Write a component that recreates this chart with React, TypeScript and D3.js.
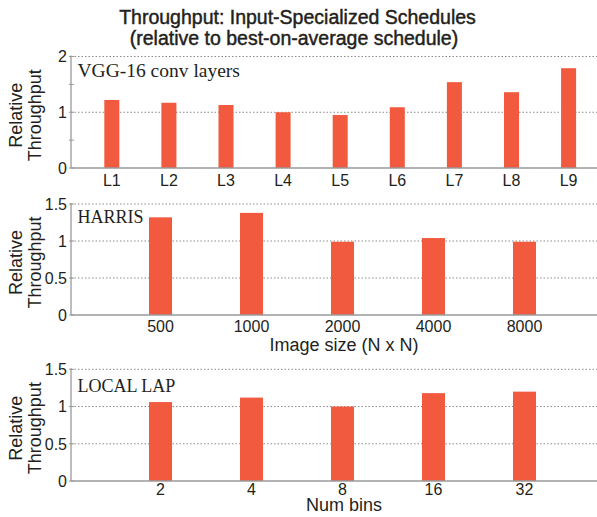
import React from "react";
import * as d3 from "d3";

const vggLayers = ["L1", "L2", "L3", "L4", "L5", "L6", "L7", "L8", "L9"];
const vggValues = [1.22, 1.17, 1.13, 1.0, 0.95, 1.09, 1.54, 1.36, 1.79];
const vggTicks = [0, 1, 2];
const vggMinorTicks = [0.5, 1.5];

const harrisSizes = ["500", "1000", "2000", "4000", "8000"];
const harrisValues = [1.32, 1.38, 0.99, 1.04, 0.99];

const lapBins = ["2", "4", "8", "16", "32"];
const lapValues = [1.06, 1.12, 1.0, 1.18, 1.2];

const ratioTicks = [0, 0.5, 1, 1.5];

const BAR = "#f15a3e";
const TXT = "#231f20";
const SANS = "'Liberation Sans', Arial, Helvetica, sans-serif";
const SERIF = "'Liberation Serif', 'Times New Roman', serif";

type PanelProps = {
  cats: string[];
  vals: number[];
  ymax: number;
  ticks: number[];
  minor?: number[];
  grid: number[];
  y0: number;
  y1: number;
  bandStart: number;
  bandEnd: number;
  padInner: number;
  label: string;
  labelSize: number;
  labelY: number;
  tickLabelY: number;
  xTitle?: string;
  xTitleY?: number;
  fmt: (v: number) => string;
};

const AX_L = 71;
const AX_R = 597;

function Panel(p: PanelProps) {
  const x = d3.scaleBand<string>().domain(p.cats).range([p.bandStart, p.bandEnd]).paddingInner(p.padInner).paddingOuter(0);
  const y = d3.scaleLinear().domain([0, p.ymax]).range([p.y0, p.y1]);
  const midY = (p.y0 + p.y1) / 2 + 3;
  return (
    <g>
      {p.grid.map((g) => (
        <line key={"g" + g} x1={AX_L} x2={AX_R} y1={y(g)} y2={y(g)} stroke="#8a8a8a" strokeWidth={1} strokeDasharray="1.5,2" />
      ))}
      {p.cats.map((c, i) => (
        <rect key={c} x={x(c)} y={y(p.vals[i])} width={x.bandwidth()} height={p.y0 - y(p.vals[i])} fill={BAR} />
      ))}
      <line x1={AX_L} x2={AX_L} y1={p.y0} y2={y(p.ymax) - 1} stroke="#9a9a9a" strokeWidth={1.3} />
      <line x1={AX_L} x2={AX_R} y1={p.y0} y2={p.y0} stroke="#9a9a9a" strokeWidth={1.5} />
      {[...p.ticks, ...(p.minor || [])].map((t) => (
        <line key={"t" + t} x1={AX_L - 2} x2={AX_L + 3} y1={y(t)} y2={y(t)} stroke="#9a9a9a" strokeWidth={1} />
      ))}
      {p.ticks.map((t) => (
        <text key={"l" + t} x={67} y={y(t)} dy="0.36em" textAnchor="end" fontFamily={SANS} fontSize={16} fill={TXT}>
          {p.fmt(t)}
        </text>
      ))}
      {p.cats.map((c) => (
        <text key={"x" + c} x={(x(c) as number) + x.bandwidth() / 2} y={p.tickLabelY} textAnchor="middle" fontFamily={SANS} fontSize={16} fill={TXT}>
          {c}
        </text>
      ))}
      <text x={77.5} y={p.labelY} fontFamily={SERIF} fontSize={p.labelSize} fill={TXT}>
        {p.label}
      </text>
      <g transform={`translate(0,${midY}) rotate(-90)`}>
        <text x={0} y={22} textAnchor="middle" fontFamily={SANS} fontSize={18} fill={TXT}>Relative</text>
        <text x={0} y={41} textAnchor="middle" fontFamily={SANS} fontSize={18} fill={TXT}>Throughput</text>
      </g>
      {p.xTitle && (
        <text x={344} y={p.xTitleY} textAnchor="middle" fontFamily={SANS} fontSize={18} fill={TXT}>
          {p.xTitle}
        </text>
      )}
    </g>
  );
}

const fmt = (v: number) => String(v);

export default function App() {
  return (
    <svg width={597} height={517} style={{ position: "absolute", left: 0, top: 0, background: "#fff" }}>
      <text x={297.5} y={23.5} textAnchor="middle" fontFamily={SANS} fontSize={19.5} fill={TXT} stroke={TXT} strokeWidth={0.45}>
        Throughput: Input-Specialized Schedules
      </text>
      <text x={294} y={45} textAnchor="middle" fontFamily={SANS} fontSize={19.5} fill={TXT} stroke={TXT} strokeWidth={0.45}>
        (relative to best-on-average schedule)
      </text>
      <Panel
        cats={vggLayers}
        vals={vggValues}
        ymax={2}
        ticks={vggTicks}
        minor={vggMinorTicks}
        grid={[1, 2]}
        y0={168}
        y1={56.5}
        bandStart={104.3}
        bandEnd={576.1}
        padInner={0.737}
        label="VGG-16 conv layers"
        labelSize={19.5}
        labelY={76.5}
        tickLabelY={186}
        fmt={fmt}
      />
      <Panel
        cats={harrisSizes}
        vals={harrisValues}
        ymax={1.5}
        ticks={ratioTicks}
        grid={[0.5, 1, 1.5]}
        y0={315}
        y1={204}
        bandStart={149}
        bandEnd={536}
        padInner={0.747}
        label="HARRIS"
        labelSize={18}
        labelY={222.5}
        tickLabelY={332}
        xTitle="Image size (N x N)"
        xTitleY={351}
        fmt={fmt}
      />
      <Panel
        cats={lapBins}
        vals={lapValues}
        ymax={1.5}
        ticks={ratioTicks}
        grid={[0.5, 1, 1.5]}
        y0={481}
        y1={369.3}
        bandStart={149}
        bandEnd={536}
        padInner={0.747}
        label="LOCAL LAP"
        labelSize={18}
        labelY={391.5}
        tickLabelY={495}
        xTitle="Num bins"
        xTitleY={510.5}
        fmt={fmt}
      />
    </svg>
  );
}
